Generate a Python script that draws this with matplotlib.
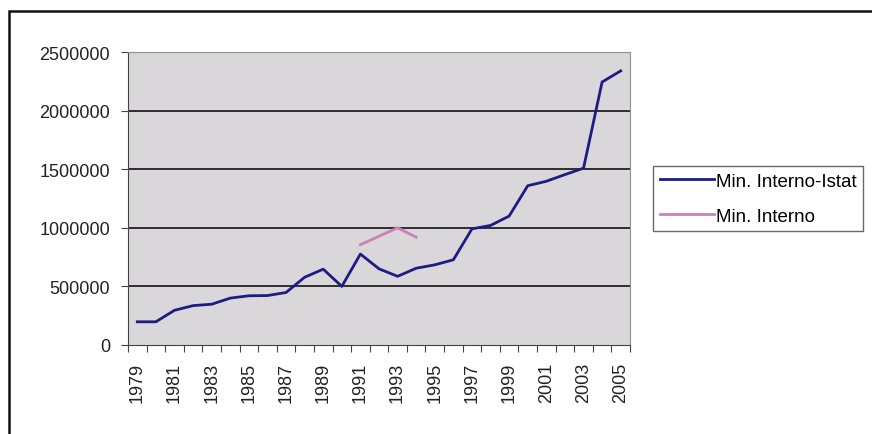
import numpy as np
import matplotlib.pyplot as plt
from matplotlib.patches import Rectangle

plt.rcParams['font.family'] = ['Liberation Sans', 'DejaVu Sans']

years = list(range(1979, 2006))
istat = [198000, 198000, 296000, 336000, 348000, 400000, 420000, 422000, 448000,
         578000, 647000, 500000, 776000, 650000, 586000, 655000, 684000, 727000,
         991000, 1020000, 1100000, 1359000, 1397000, 1454000, 1509000, 2244000, 2339000]
interno_years = [1991, 1992, 1993, 1994]
interno = [856000, 928000, 1000000, 920000]

x = np.arange(len(years))
xi = [years.index(y) for y in interno_years]

fig = plt.figure(figsize=(8.72, 4.35), dpi=100, facecolor='white')
ax = fig.add_axes([128/872, 1-346/435, 502/872, 293/435])
ax.set_facecolor('#d9d7d9')

for v in [500000, 1000000, 1500000, 2000000]:
    ax.axhline(v, color='black', lw=1.1, zorder=1)

ax.plot(x, istat, color='#1c1c84', lw=2.0, label='Min. Interno-Istat', zorder=3)
ax.plot(xi, interno, color='#cc80b4', lw=2.0, label='Min. Interno', zorder=3)

ax.set_xlim(-0.5, len(years) - 0.5)
ax.set_ylim(0, 2500000)
ax.set_yticks(np.arange(0, 2500001, 500000))
ax.set_yticklabels([str(v) for v in range(0, 2500001, 500000)], fontsize=13, color='#222222')
ax.tick_params(axis='y', length=5, pad=8, color='#444444')

ax.set_xticks(np.arange(-0.5, len(years)), labels=[''] * (len(years) + 1))
ax.tick_params(axis='x', which='major', length=5, color='#444444')
ax.set_xticks(x[::2], labels=[str(y) for y in years[::2]], minor=True)
ax.tick_params(axis='x', which='minor', length=0, pad=12, labelsize=13,
               labelrotation=90, labelcolor='#222222')

for s in ['top', 'right']:
    ax.spines[s].set_color('#909090')
for s in ['left', 'bottom']:
    ax.spines[s].set_color('#444444')

leg = ax.legend(loc='upper left', bbox_to_anchor=(653/872, 1-167/435),
                bbox_transform=fig.transFigure, fontsize=13.5, frameon=True,
                fancybox=False, handlelength=2.9, handletextpad=0.1,
                borderpad=0.35, labelspacing=0.95, borderaxespad=0)
leg.get_frame().set_edgecolor('#444444')
leg.get_frame().set_linewidth(1.0)

fig.add_artist(Rectangle((9/872, -0.5), 2, (1 - 12/435) + 0.5, transform=fig.transFigure,
                         fill=False, ec='#111111', lw=1.8))

fig.savefig('out.png', dpi=100)
